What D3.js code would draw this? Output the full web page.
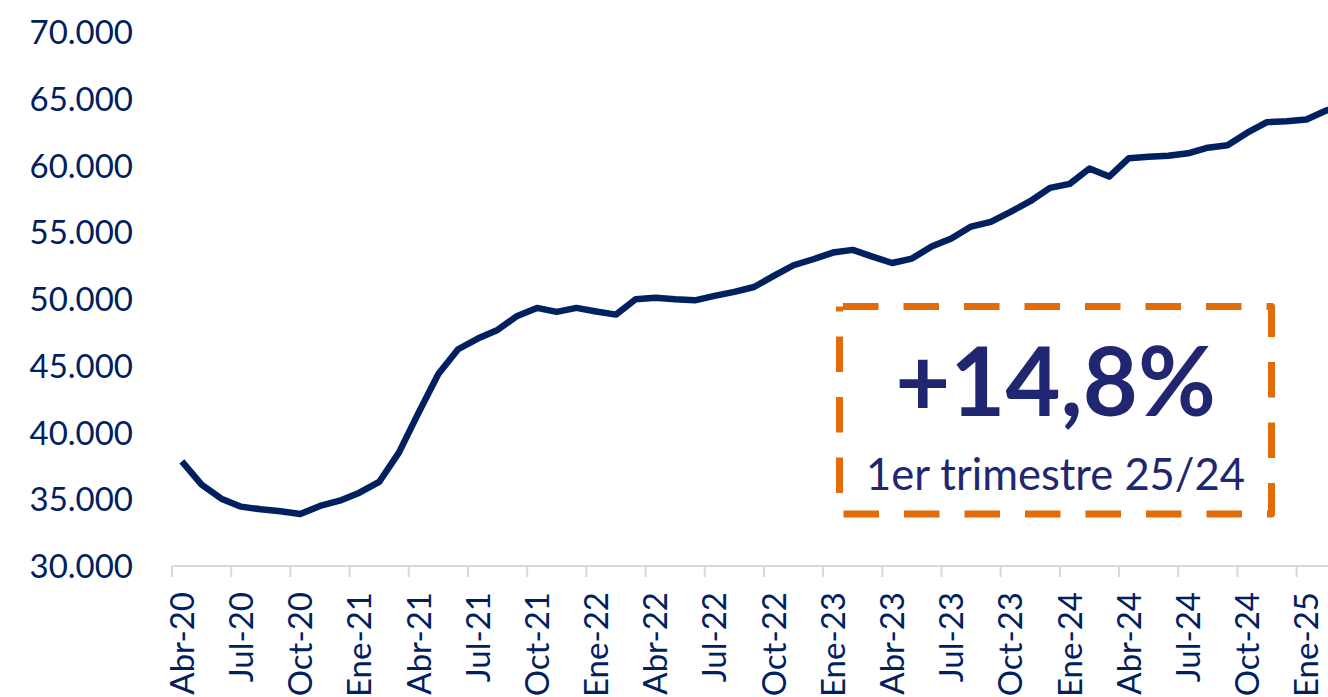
<!DOCTYPE html>
<html>
<head>
<meta charset="utf-8">
<style>
  body { margin: 0; background: #fff; }
  svg { display: block; }
</style>
</head>
<body></body>
<script src="https://d3js.org/d3.v7.min.js"></script>
<script>
  // monthly values, Abr-20 .. Mar-25
  const months = [
    'Abr-20', 'May-20', 'Jun-20', 'Jul-20', 'Ago-20', 'Sep-20', 'Oct-20', 'Nov-20', 'Dic-20',
    'Ene-21', 'Feb-21', 'Mar-21', 'Abr-21', 'May-21', 'Jun-21', 'Jul-21', 'Ago-21', 'Sep-21', 'Oct-21', 'Nov-21', 'Dic-21',
    'Ene-22', 'Feb-22', 'Mar-22', 'Abr-22', 'May-22', 'Jun-22', 'Jul-22', 'Ago-22', 'Sep-22', 'Oct-22', 'Nov-22', 'Dic-22',
    'Ene-23', 'Feb-23', 'Mar-23', 'Abr-23', 'May-23', 'Jun-23', 'Jul-23', 'Ago-23', 'Sep-23', 'Oct-23', 'Nov-23', 'Dic-23',
    'Ene-24', 'Feb-24', 'Mar-24', 'Abr-24', 'May-24', 'Jun-24', 'Jul-24', 'Ago-24', 'Sep-24', 'Oct-24', 'Nov-24', 'Dic-24',
    'Ene-25', 'Feb-25', 'Mar-25'
  ]
  const values = [
    37850, 36100, 35050, 34450, 34250, 34100, 33900, 34500, 34900,
    35500, 36300, 38500, 41500, 44400, 46250, 47050, 47700, 48750, 49350, 49050, 49350,
    49080, 48850, 50000, 50120, 50000, 49920, 50250, 50550, 50920, 51750, 52550, 53000,
    53500, 53700, 53200, 52720, 53050, 53950, 54550, 55450, 55800, 56550, 57350, 58350,
    58650, 59800, 59200, 60580, 60690, 60760, 60940, 61360, 61540, 62490, 63280, 63350,
    63480, 64150, 64600
  ]
  const yTicks = [30000, 35000, 40000, 45000, 50000, 55000, 60000, 65000, 70000]
  const labelMonths = months.filter((m, i) => i % 3 === 0)

  const bigText = '+14,8%'
  const subText = '1er trimestre 25/24'

  const width = 1328
  const height = 697
  const navy = '#002060'
  const orange = '#E36C0A'
  const font = 'Lato, "Open Sans", sans-serif'

  const svg = d3.select('body')
    .append('svg')
    .attr('width', width)
    .attr('height', height)

  // plot area runs past the right edge (cropped like the original)
  const x = d3.scaleBand()
    .domain(months)
    .range([172, 172 + 19.73 * months.length])
    .paddingInner(0)
    .paddingOuter(0)

  const y = d3.scaleLinear()
    .domain([30000, 70000])
    .range([566, 32.5])

  const fmt = d3.format(',.0f')
  const esNum = d => fmt(d).replace(/,/g, '.')

  // y labels (no axis line)
  svg.append('g')
    .selectAll('text')
    .data(yTicks)
    .enter().append('text')
    .attr('x', 133)
    .attr('y', d => y(d))
    .attr('dy', '0.36em')
    .attr('text-anchor', 'end')
    .attr('font-family', font)
    .attr('font-size', 33)
    .attr('fill', navy)
    .text(esNum)

  // x axis line + ticks at category boundaries
  const xg = svg.append('g')
  xg.append('line')
    .attr('x1', x.range()[0])
    .attr('x2', x.range()[1])
    .attr('y1', 566)
    .attr('y2', 566)
    .attr('stroke', '#d9d9d9')
    .attr('stroke-width', 2)

  xg.selectAll('line.tick')
    .data(labelMonths)
    .enter().append('line')
    .attr('class', 'tick')
    .attr('x1', d => x(d))
    .attr('x2', d => x(d))
    .attr('y1', 566)
    .attr('y2', 577)
    .attr('stroke', '#d9d9d9')
    .attr('stroke-width', 2)

  xg.selectAll('text')
    .data(labelMonths)
    .enter().append('text')
    .attr('transform', d => `translate(${x(d) + x.bandwidth() / 2}, 592) rotate(-90)`)
    .attr('dy', '0.36em')
    .attr('text-anchor', 'end')
    .attr('font-family', font)
    .attr('font-size', 33)
    .attr('fill', navy)
    .text(d => d)

  // the line
  const line = d3.line()
    .x((d, i) => x(months[i]) + x.bandwidth() / 2)
    .y(d => y(d))

  svg.append('path')
    .datum(values)
    .attr('d', line)
    .attr('fill', 'none')
    .attr('stroke', navy)
    .attr('stroke-width', 6.5)
    .attr('stroke-linejoin', 'round')

  // dashed annotation box
  const box = { x: 839.5, y: 306.5, w: 432, h: 207.5 }
  svg.append('rect')
    .attr('x', box.x)
    .attr('y', box.y)
    .attr('width', box.w)
    .attr('height', box.h)
    .attr('fill', 'none')
    .attr('stroke', orange)
    .attr('stroke-width', 7)
    .attr('stroke-dasharray', '35.5 25')
    .attr('stroke-dashoffset', 57)
    .attr('stroke-linejoin', 'round')

  svg.append('text')
    .attr('x', box.x + box.w / 2)
    .attr('y', 416)
    .attr('text-anchor', 'middle')
    .attr('font-family', font)
    .attr('font-weight', 'bold')
    .attr('font-size', 95)
    .attr('fill', '#212670')
    .text(bigText)

  svg.append('text')
    .attr('x', box.x + box.w / 2)
    .attr('y', 490)
    .attr('text-anchor', 'middle')
    .attr('font-family', font)
    .attr('font-size', 43.5)
    .attr('fill', '#212670')
    .text(subText)
</script>
</html>
